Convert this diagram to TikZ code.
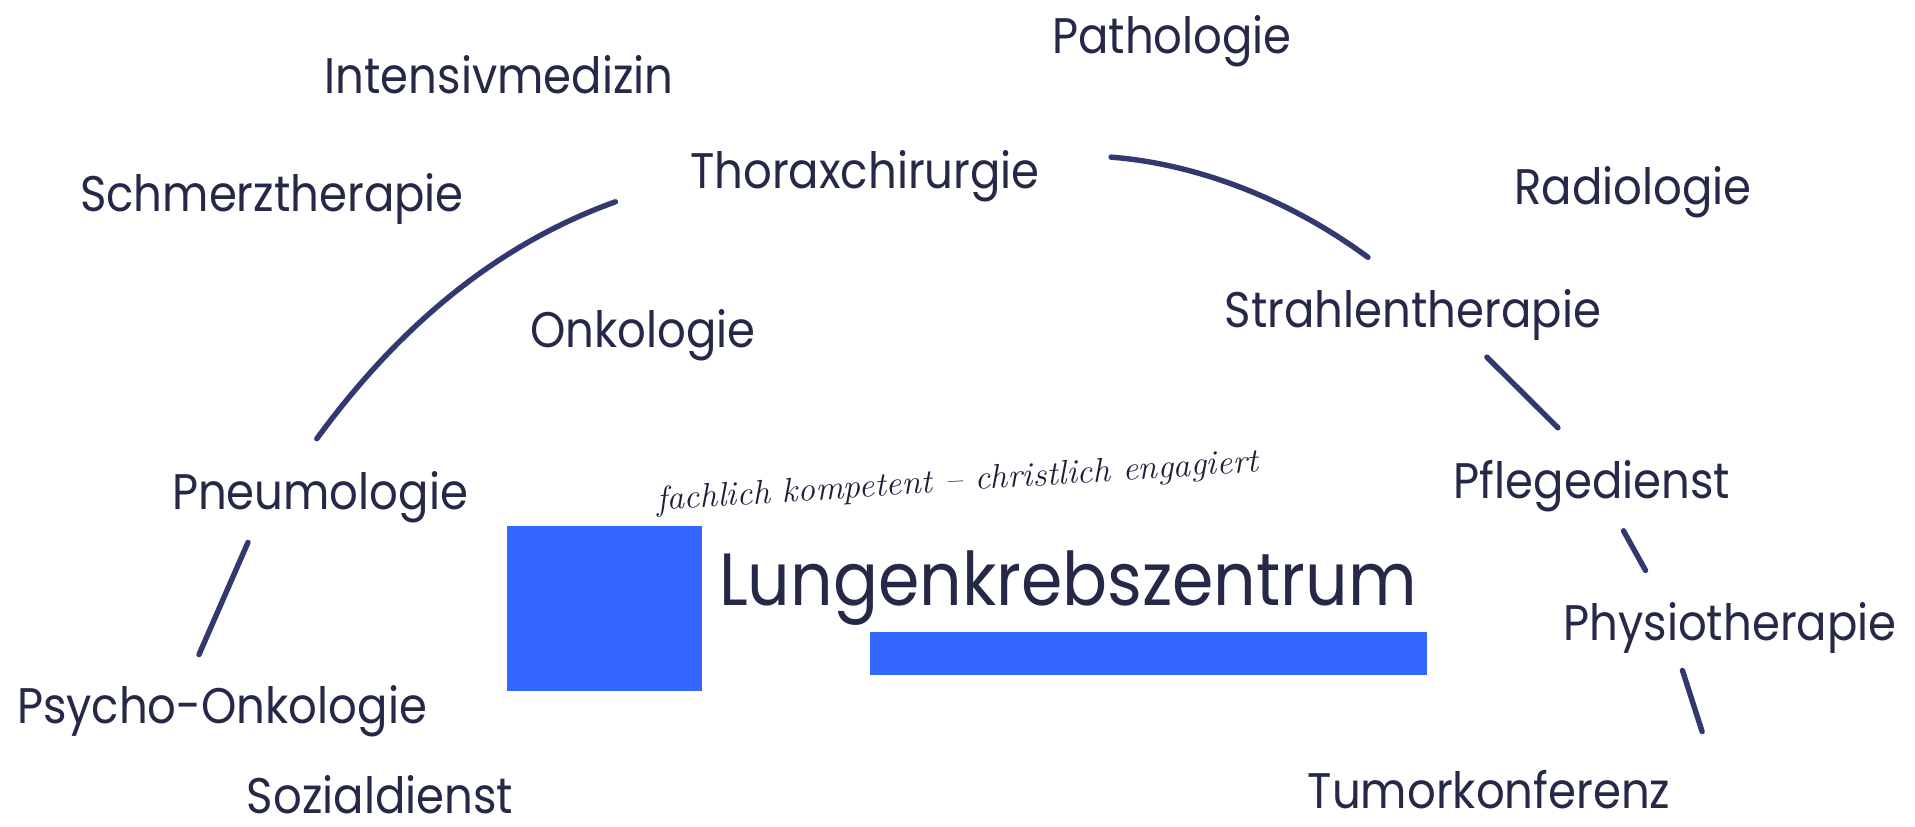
\documentclass[tikz,border=0pt]{standalone}
\usepackage{fontspec}
\setmainfont[FakeStretch=0.9]{Poppins}
\newfontfamily\taglinefont[FakeStretch=1.03]{Latin Modern Roman}
\usetikzlibrary{calc,positioning}
\definecolor{deptink}{RGB}{38,40,72}
\definecolor{arcink}{RGB}{50,56,112}
\definecolor{logoblue}{RGB}{51,102,255}
\tikzset{
  dept/.style={
    text=deptink,
    font=\fontsize{25}{28}\selectfont,
    inner sep=0pt,
    anchor=base,
    text height=18pt,
    text depth=5pt
  },
  brand/.style={text=deptink, font=\fontsize{37}{42}\selectfont, inner sep=0pt, anchor=base},
  motto/.style={text=deptink!80!black, font=\taglinefont\itshape\fontsize{17}{19}\selectfont,
    inner sep=0pt, anchor=base, rotate=3.7},
  link/.style={draw=arcink, line width=2.7pt, line cap=round},
  patch/.style={fill=logoblue, draw=none},
}

\begin{document}
\begin{tikzpicture}[x=0.5pt,y=-0.5pt]
  \fill[white] (0,0) rectangle (1915,826);
  \useasboundingbox (0,0) rectangle (1915,826);
  % departments round the centre
  \foreach \nm/\px/\py/\txt in {
      patho/1172/53/Pathologie,
      intensiv/499/93/Intensivmedizin,
      thorax/865/188/Thoraxchirurgie,
      schmerz/272/211/Schmerztherapie,
      radio/1633/204/Radiologie,
      strahlen/1413/327/Strahlentherapie,
      onko/643/347/Onkologie,
      pneumo/320/509/Pneumologie,
      pflege/1592/498/Pflegedienst,
      physio/1730/640/Physiotherapie,
      psycho/222/723/Psycho-Onkologie,
      tumor/1489/808/Tumorkonferenz} {
    \node[dept] (\nm) at (\px,\py) {\txt};
  }
  \node[dept, text depth=0pt] (sozial) at (380,813) {Sozialdienst};
  % logo block
  \fill[patch] (507,526) rectangle (702,691);
  \node[brand] (brand) at (1068,605) {Lungenkrebszentrum};
  \fill[patch] (870,632) rectangle (1427,675);
  \node[motto] (motto) at (958,491) {fachlich kompetent – christlich engagiert};
  % ring segments
  \draw[link, shorten <=39.5pt, shorten >=21pt] (thorax.west) to[bend right=17] ([xshift=-14pt]pneumo.north);
  \draw[link, shorten <=35.5pt, shorten >=28pt] (thorax.north east) to[bend left=16] (strahlen.north);
  \draw[link, shorten <=14pt, shorten >=24pt] ([xshift=27pt]strahlen.south) -- (pflege.north);
  \draw[link, shorten <=12.8pt, shorten >=19pt] ([xshift=9.5pt]pflege.south) -- ([xshift=-33pt]physio.north);
  \draw[link, shorten <=10.5pt, shorten >=21pt] ([xshift=-27pt]physio.south) -- ([xshift=113pt]tumor.north);
  \draw[link, shorten <=12.5pt, shorten >=17.5pt] ([xshift=-31pt]pneumo.south) -- ([xshift=-18.5pt]psycho.north);
\end{tikzpicture}
\end{document}
